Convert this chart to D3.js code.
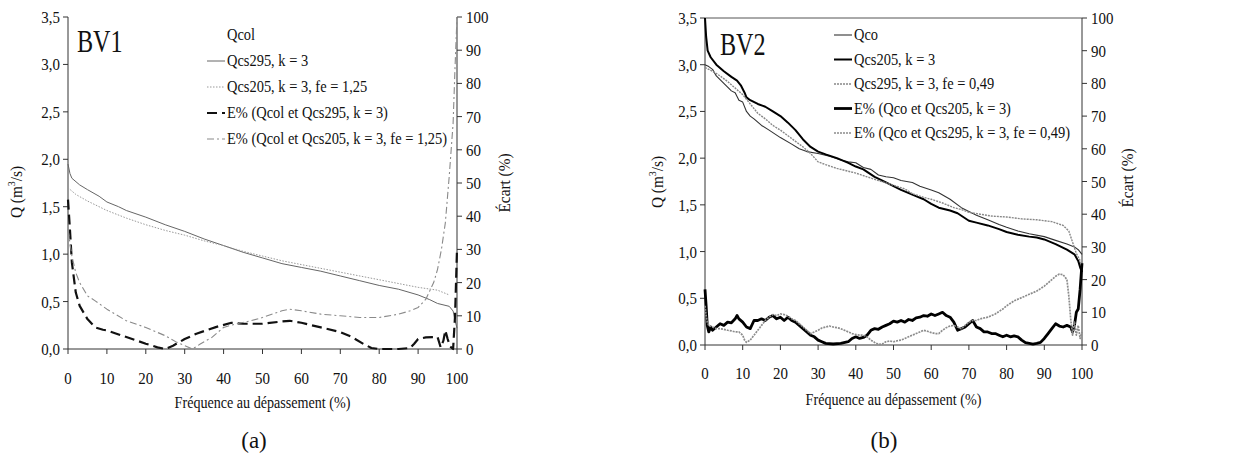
<!DOCTYPE html>
<html>
<head>
<meta charset="utf-8">
<script src="https://cdn.jsdelivr.net/npm/d3@7"></script>
<style>
  body { margin: 0; background: #fff; }
  text { font-family: "Liberation Serif", "DejaVu Serif", serif; fill: #111; }
</style>
</head>
<body>
<svg id="chart" width="1250" height="462"></svg>
<script>
// ---- data ----
// x = Fréquence au dépassement (%), Q in m3/s, E% in %

const qTicks = [0, 0.5, 1, 1.5, 2, 2.5, 3, 3.5]
const eTicks = [0, 10, 20, 30, 40, 50, 60, 70, 80, 90, 100]
const fTicks = [0, 10, 20, 30, 40, 50, 60, 70, 80, 90, 100]

// BV1
const bv1Qcs295 = [[0,1.95],[0.5,1.85],[1,1.8],[3,1.73],[5,1.68],[8,1.61],[10,1.55],[13,1.5],[15,1.46],[20,1.39],[25,1.31],[30,1.24],[35,1.16],[40,1.09],[45,1.02],[50,0.96],[55,0.9],[60,0.86],[65,0.82],[70,0.77],[75,0.72],[80,0.67],[85,0.63],[90,0.57],[93,0.52],[95,0.48],[98,0.45],[99,0.4],[99.5,0.3],[100,0.22]]
const bv1Qcs205 = [[0,1.7],[2,1.63],[5,1.56],[10,1.46],[15,1.38],[20,1.31],[25,1.25],[30,1.2],[35,1.14],[40,1.09],[45,1.03],[50,0.98],[55,0.93],[60,0.89],[65,0.85],[70,0.81],[75,0.77],[80,0.73],[85,0.69],[90,0.65],[95,0.62],[98,0.57]]
const bv1E295 = [[0,45],[0.5,36],[1,26],[2,17],[3,13],[5,9],[7,6.5],[9,5.8],[10,5.6],[15,3.6],[20,1.6],[23,0.5],[25,0],[27,1],[30,3],[33,4.6],[38,6.6],[42,7.9],[45,7.6],[50,7.6],[55,8.3],[57,8.5],[60,7.9],[65,6.5],[70,5.1],[73,3.6],[76,1.5],[78,0.3],[80,0],[85,0],[88,0.3],[89,1.6],[90,3],[92,3.5],[95,3.6],[95.8,0.5],[96.5,2.5],[97,5.6],[97.6,3],[98.2,0.8],[99,0],[99.5,10],[100,30]]
const bv1E205 = [[0,36],[1,28],[2,23],[3,20],[5,16],[7,14.5],[10,12],[15,8.5],[20,6.5],[25,4],[28,2],[30,1],[32,0],[34,1.5],[37,3.5],[40,6.5],[43,7.5],[47,8.5],[50,9.5],[55,11.5],[57,12],[60,11.5],[65,10.5],[70,10],[75,9.5],[80,9.5],[85,10.5],[88,11.5],[90,12.5],[92,15],[94,20],[95,24],[96,30],[97,38],[98,52],[99,68],[99.5,85],[100,100]]

// BV2
const bv2Qco = [[0,3.0],[1,2.98],[2,2.95],[3,2.88],[5,2.8],[7,2.72],[8,2.7],[9,2.62],[10,2.6],[11,2.5],[12,2.45],[13,2.42],[15,2.35],[17,2.3],[20,2.22],[23,2.15],[25,2.1],[27,2.07],[30,2.05],[33,2.02],[36,1.98],[38,1.96],[40,1.95],[42,1.9],[44,1.88],[46,1.82],[48,1.8],[50,1.79],[52,1.76],[55,1.74],[57,1.7],[60,1.66],[62,1.63],[65,1.56],[68,1.47],[70,1.43],[72,1.39],[75,1.34],[78,1.29],[80,1.26],[83,1.22],[86,1.19],[90,1.16],[93,1.12],[96,1.08],[98,1.05],[99,1.02],[100,0.97]]
const bv2Qcs205 = [[0,3.5],[0.3,3.3],[0.7,3.15],[1.5,3.08],[3,3.0],[5,2.93],[7,2.87],[8.5,2.83],[9.5,2.78],[10.5,2.7],[11,2.65],[12,2.62],[14,2.58],[16,2.55],[18,2.5],[20,2.45],[22,2.38],[24,2.3],[26,2.2],[28,2.12],[30,2.07],[32,2.04],[35,2.0],[38,1.95],[40,1.91],[42,1.88],[45,1.8],[48,1.74],[50,1.7],[52,1.66],[55,1.61],[58,1.56],[60,1.51],[62,1.47],[65,1.44],[67,1.41],[70,1.33],[72,1.31],[75,1.28],[78,1.24],[80,1.21],[83,1.18],[86,1.16],[88,1.15],[90,1.13],[93,1.08],[96,1.02],[98,0.97],[99,0.9],[99.6,0.82],[100,0.78]]
const bv2Qcs295 = [[0,2.97],[2,2.93],[4,2.88],[6,2.82],[8,2.75],[10,2.68],[12,2.58],[14,2.48],[16,2.42],[18,2.35],[20,2.3],[22,2.24],[24,2.18],[26,2.12],[28,2.05],[30,1.96],[32,1.93],[35,1.89],[38,1.86],[40,1.84],[43,1.8],[46,1.76],[50,1.71],[53,1.67],[55,1.62],[58,1.58],[60,1.56],[63,1.52],[66,1.47],[68,1.45],[70,1.42],[73,1.4],[76,1.38],[80,1.37],[84,1.35],[88,1.34],[92,1.32],[95,1.28],[96.5,1.22],[97.5,1.1],[98.5,0.98],[99.3,0.92],[100,0.86]]
const bv2E205 = [[0,17],[0.3,12],[0.6,6],[1,4],[1.5,5.5],[2,4.5],[3,5.5],[4,6.5],[5,6],[6,7],[7,6.8],[8,8],[8.5,9],[9,8],[10,7],[11,5.5],[12,5],[13,7.5],[14,7.5],[15,8],[16,7.5],[17,8.5],[18,9],[19,8],[20,8.5],[21,7.5],[22,8.5],[23,7.5],[24,7],[25,6],[26,5],[27,4],[28,3],[29,2.5],[30,1.5],[31,1],[32,0.5],[34,0.3],[36,0.5],[38,1],[39,2],[40,2.5],[41,2],[42,2.3],[43,3],[44,4.5],[45,5],[46,4.8],[47,5.5],[48,6],[49,6.5],[50,7.3],[51,7],[52,7.5],[53,7],[54,7.8],[55,7.5],[56,8.3],[57,8.5],[58,9],[59,8.8],[60,9.5],[61,9],[62,9.5],[63,10],[64,9],[65,8.5],[66,7],[67,4.5],[68,5],[69,5.5],[70,6.5],[71,7.5],[72,5.5],[73,5],[74,4],[75,4],[76,3.5],[77,3.5],[78,3],[79,2.5],[80,3],[81,2.5],[82,2.8],[83,2.5],[84,1.5],[85,0.7],[86,0.5],[87,0.3],[88,0.5],[89,0.8],[90,2],[91,3.5],[92,5],[93,6.5],[94,5.8],[95,5.5],[96,6],[97,5.5],[97.5,4],[98,6],[98.5,10],[99,11],[99.5,17],[100,25]]
const bv2E295 = [[0,12],[0.3,9],[0.6,7],[1,6],[2,5.5],[3,5],[4,5],[5,4.8],[6,4.5],[7,4.3],[8,4],[9,4],[10,3],[10.5,1.5],[11,0.8],[12,1.5],[13,3],[14,4.5],[15,6],[16,7.5],[17,8.5],[18,9.3],[19,9],[20,9.5],[21,9.3],[22,8.8],[23,8],[24,7.5],[25,6.5],[26,5.5],[27,4.5],[28,3.5],[29,4],[30,4.5],[31,5.2],[32,5.5],[33,5.8],[34,5.5],[35,5.3],[36,5],[37,4.5],[38,4],[39,3.5],[40,3.2],[41,3],[42,3],[43,2.5],[44,1.5],[45,0.8],[46,0.2],[47,0.3],[48,1],[49,1.2],[50,1],[51,1.3],[52,1.5],[53,2],[54,2.5],[55,3],[56,3.5],[57,4],[58,4.5],[59,4.2],[60,3.8],[61,3.5],[62,3.5],[63,4.5],[64,5.3],[65,5.8],[66,6],[67,5.5],[68,5],[69,6],[70,7],[71,7.5],[72,7.5],[73,8],[75,8.5],[77,9.5],[79,11],[80,12],[82,13.5],[84,14.5],[86,15.5],[88,16.5],[90,18],[91,19],[92,20],[93,21],[94,21.7],[95,21.5],[96,20],[96.5,15],[97,8],[97.5,3],[98,7],[98.5,3],[99,6],[99.5,2],[100,4]]

// ---- line styles ----
const styles = {
  thinGray:    { stroke: '#666', width: 1, dash: null },
  dotGray:     { stroke: '#999', width: 1, dash: '1.5,1.5' },
  dashBlack:   { stroke: '#111', width: 2.2, dash: '10,5' },
  dashDotGray: { stroke: '#8a8a8a', width: 1.1, dash: '7,3,2,3' },
  thinDark:    { stroke: '#333', width: 1.1, dash: null },
  thickBlack:  { stroke: '#000', width: 2, dash: null },
  dotGray2:    { stroke: '#888', width: 1.4, dash: '2,1' },
  heavyBlack:  { stroke: '#000', width: 2.8, dash: null },
  gray2:       { stroke: '#8c8c8c', width: 1.7, dash: '2,1' }
}

const panels = [
  {
    left: 68, right: 457, top: 17, bottom: 349,
    name: 'BV1', nameX: 77, nameY: 52,
    tickY: 384, titleY: 408,
    qTitleX: 22, qTitleY: 192, eTitleX: 510, eTitleY: 183,
    caption: '(a)', capX: 254, capY: 448,
    topBorder: false, rightAxisColor: '#999', rightAxisWidth: 2,
    legX: 207, legY: 40, legStep: 26,
    series: [
      { label: 'Qcol', data: null, axis: 'q', style: null },
      { label: 'Qcs295, k = 3', data: bv1Qcs295, axis: 'q', style: 'thinGray' },
      { label: 'Qcs205, k = 3, fe = 1,25', data: bv1Qcs205, axis: 'q', style: 'dotGray' },
      { label: 'E% (Qcol et Qcs295, k = 3)', data: bv1E295, axis: 'e', style: 'dashBlack' },
      { label: 'E% (Qcol et Qcs205, k = 3, fe = 1,25)', data: bv1E205, axis: 'e', style: 'dashDotGray' }
    ]
  },
  {
    left: 705, right: 1082, top: 18, bottom: 345,
    name: 'BV2', nameX: 720, nameY: 55,
    tickY: 379, titleY: 405,
    qTitleX: 663, qTitleY: 182, eTitleX: 1133, eTitleY: 178,
    caption: '(b)', capX: 884, capY: 448,
    topBorder: true, rightAxisColor: '#333', rightAxisWidth: 1,
    legX: 834, legY: 40, legStep: 24.5,
    series: [
      { label: 'Qco', data: bv2Qco, axis: 'q', style: 'thinDark' },
      { label: 'Qcs205, k = 3', data: bv2Qcs205, axis: 'q', style: 'thickBlack' },
      { label: 'Qcs295, k = 3, fe = 0,49', data: bv2Qcs295, axis: 'q', style: 'dotGray2' },
      { label: 'E% (Qco et Qcs205, k = 3)', data: bv2E205, axis: 'e', style: 'heavyBlack' },
      { label: 'E% (Qco et Qcs295, k = 3, fe = 0,49)', data: bv2E295, axis: 'e', style: 'gray2' }
    ]
  }
]

const svg = d3.select('#chart')
const fmt = d => d3.format('.1f')(d).replace('.', ',')

// the scanned figure uses a tall, narrow Times face:
// squeeze glyphs horizontally with a transform (k = width factor)
const place = (x, y, k, rot) => `translate(${x},${y})` + (rot ? ` rotate(${rot})` : '') + ` scale(${k},1)`

panels.forEach(p => drawPanel(p))

function drawPanel(p) {
  const g = svg.append('g')

  const x = d3.scaleLinear().domain([0, 100]).range([p.left, p.right])
  const yQ = d3.scaleLinear().domain([0, 3.5]).range([p.bottom, p.top])
  const yE = d3.scaleLinear().domain([0, 100]).range([p.bottom, p.top])

  // top border (BV2 only)
  if (p.topBorder) {
    g.append('line')
      .attr('x1', p.left).attr('x2', p.right)
      .attr('y1', p.top).attr('y2', p.top)
      .attr('stroke', '#555').attr('stroke-width', 1)
  }

  // left axis
  g.append('line')
    .attr('x1', p.left).attr('x2', p.left)
    .attr('y1', p.top).attr('y2', p.bottom)
    .attr('stroke', '#333')
  g.selectAll('.qtick').data(qTicks).enter().append('line')
    .attr('x1', p.left - 5).attr('x2', p.left)
    .attr('y1', d => yQ(d)).attr('y2', d => yQ(d))
    .attr('stroke', '#333')
  g.selectAll('.qlab').data(qTicks).enter().append('text')
    .attr('transform', d => place(p.left - 8, yQ(d) + 6, 0.88))
    .attr('text-anchor', 'end').attr('font-size', 17)
    .text(fmt)

  // right axis
  g.append('line')
    .attr('x1', p.right).attr('x2', p.right)
    .attr('y1', p.top).attr('y2', p.bottom)
    .attr('stroke', p.rightAxisColor).attr('stroke-width', p.rightAxisWidth)
  g.selectAll('.etick').data(eTicks).enter().append('line')
    .attr('x1', p.right).attr('x2', p.right + 5)
    .attr('y1', d => yE(d)).attr('y2', d => yE(d))
    .attr('stroke', '#333')
  g.selectAll('.elab').data(eTicks).enter().append('text')
    .attr('transform', d => place(p.right + 9, yE(d) + 6, 0.88))
    .attr('font-size', 17)
    .text(d => d)

  // bottom axis
  g.append('line')
    .attr('x1', p.left).attr('x2', p.right)
    .attr('y1', p.bottom).attr('y2', p.bottom)
    .attr('stroke', '#333')
  g.selectAll('.ftick').data(fTicks).enter().append('line')
    .attr('x1', d => x(d)).attr('x2', d => x(d))
    .attr('y1', p.bottom).attr('y2', p.bottom + 5)
    .attr('stroke', '#333')
  g.selectAll('.flab').data(fTicks).enter().append('text')
    .attr('transform', d => place(x(d), p.tickY, 0.88))
    .attr('text-anchor', 'middle').attr('font-size', 17)
    .text(d => d)

  // axis titles
  g.append('text')
    .attr('transform', place((p.left + p.right) / 2, p.titleY, 0.83))
    .attr('text-anchor', 'middle').attr('font-size', 17)
    .text('Fréquence au dépassement (%)')

  const qt = g.append('text')
    .attr('transform', place(p.qTitleX, p.qTitleY, 0.9, -90))
    .attr('text-anchor', 'middle').attr('font-size', 17)
  qt.append('tspan').text('Q (m')
  qt.append('tspan').attr('dy', -7).attr('font-size', 11).text('3')
  qt.append('tspan').attr('dy', 7).text('/s)')

  g.append('text')
    .attr('transform', place(p.eTitleX, p.eTitleY, 0.9, -90))
    .attr('text-anchor', 'middle').attr('font-size', 17)
    .text('Écart (%)')

  // curves
  const lineQ = d3.line().x(d => x(d[0])).y(d => yQ(d[1]))
  const lineE = d3.line().x(d => x(d[0])).y(d => yE(d[1]))

  p.series.forEach(s => {
    const st = styles[s.style]
    if (!s.data || !st) return
    g.append('path')
      .datum(s.data)
      .attr('d', s.axis === 'q' ? lineQ : lineE)
      .attr('fill', 'none')
      .attr('stroke', st.stroke)
      .attr('stroke-width', st.width)
      .attr('stroke-dasharray', st.dash)
      .attr('stroke-linejoin', 'round')
  })

  // legend
  const leg = g.append('g').attr('class', 'legend')
  p.series.forEach((s, i) => {
    const st = styles[s.style]
    const yy = p.legY + i * p.legStep
    if (st) {
      leg.append('line')
        .attr('x1', p.legX).attr('x2', p.legX + 18)
        .attr('y1', yy - 5).attr('y2', yy - 5)
        .attr('stroke', st.stroke)
        .attr('stroke-width', st.width)
        .attr('stroke-dasharray', st.dash)
    }
    leg.append('text')
      .attr('transform', place(p.legX + 20, yy, 0.85))
      .attr('font-size', 17)
      .text(s.label)
  })

  // panel name and caption
  g.append('text')
    .attr('transform', place(p.nameX, p.nameY, 0.78))
    .attr('font-size', 31)
    .text(p.name)

  g.append('text')
    .attr('x', p.capX).attr('y', p.capY)
    .attr('text-anchor', 'middle').attr('font-size', 23)
    .text(p.caption)
}
</script>
</body>
</html>
